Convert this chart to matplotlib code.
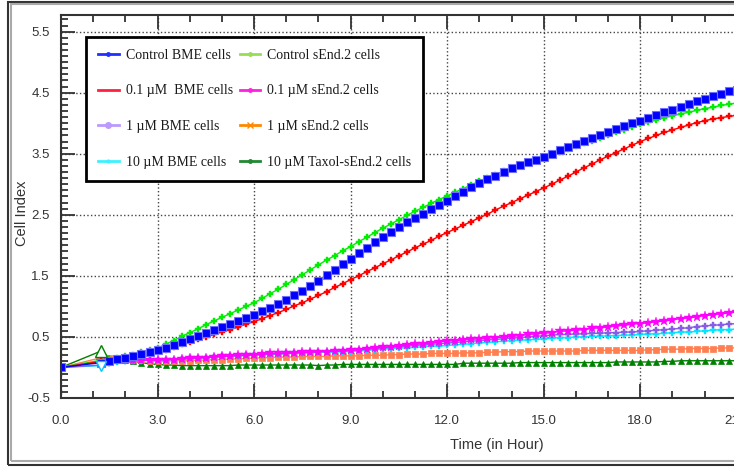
import numpy as np
import matplotlib.pyplot as plt
from matplotlib.lines import Line2D
from matplotlib.patches import Rectangle
from matplotlib.ticker import MultipleLocator, FormatStrFormatter

plt.rcParams['font.family'] = 'Liberation Sans'
plt.rcParams['axes.unicode_minus'] = False

# first reading at 0 h, then one reading every 15 min from 1.25 h
hours = np.concatenate([[0.0], np.arange(1.25, 21.01, 0.25)])

control_bme = [0.00, 0.08, 0.11, 0.14,
               0.16, 0.19, 0.22, 0.25, 0.28, 0.32, 0.37, 0.42,
               0.47, 0.52, 0.57, 0.61, 0.66, 0.71, 0.76, 0.81,
               0.86, 0.92, 0.98, 1.04, 1.10, 1.18, 1.26, 1.34,
               1.42, 1.51, 1.60, 1.69, 1.78, 1.87, 1.96, 2.05,
               2.14, 2.22, 2.30, 2.38, 2.45, 2.52, 2.59, 2.66,
               2.73, 2.80, 2.88, 2.95, 3.02, 3.08, 3.14, 3.20,
               3.26, 3.31, 3.36, 3.40, 3.45, 3.50, 3.56, 3.61,
               3.66, 3.71, 3.76, 3.81, 3.86, 3.91, 3.95, 4.00,
               4.04, 4.09, 4.13, 4.18, 4.22, 4.27, 4.31, 4.36,
               4.40, 4.44, 4.48, 4.52, 4.55]

control_send = [0.00, 0.12, 0.14, 0.16,
                0.18, 0.21, 0.25, 0.28, 0.32, 0.38, 0.44, 0.51,
                0.57, 0.63, 0.70, 0.76, 0.82, 0.88, 0.94, 1.00,
                1.06, 1.13, 1.21, 1.28, 1.36, 1.44, 1.52, 1.60,
                1.68, 1.76, 1.83, 1.91, 1.98, 2.06, 2.13, 2.21,
                2.28, 2.35, 2.42, 2.49, 2.56, 2.62, 2.69, 2.75,
                2.81, 2.87, 2.93, 2.99, 3.05, 3.10, 3.16, 3.21,
                3.26, 3.30, 3.35, 3.39, 3.43, 3.48, 3.53, 3.57,
                3.62, 3.67, 3.71, 3.76, 3.80, 3.85, 3.89, 3.94,
                3.98, 4.02, 4.05, 4.09, 4.12, 4.15, 4.18, 4.21,
                4.24, 4.26, 4.29, 4.31, 4.33]

bme_01 = [0.00, 0.10, 0.12, 0.13,
          0.14, 0.17, 0.19, 0.22, 0.25, 0.29, 0.34, 0.38,
          0.42, 0.46, 0.50, 0.54, 0.58, 0.62, 0.66, 0.71,
          0.75, 0.80, 0.85, 0.90, 0.95, 1.01, 1.06, 1.12,
          1.18, 1.24, 1.31, 1.37, 1.44, 1.50, 1.57, 1.63,
          1.70, 1.76, 1.83, 1.89, 1.96, 2.02, 2.08, 2.15,
          2.21, 2.27, 2.33, 2.39, 2.45, 2.51, 2.58, 2.64,
          2.70, 2.76, 2.82, 2.88, 2.94, 3.00, 3.07, 3.13,
          3.20, 3.27, 3.33, 3.40, 3.46, 3.52, 3.58, 3.64,
          3.70, 3.75, 3.80, 3.85, 3.89, 3.93, 3.97, 4.01,
          4.04, 4.07, 4.09, 4.11, 4.13]

send_01 = [0.00, 0.10, 0.13, 0.13,
           0.13, 0.12, 0.12, 0.12, 0.12, 0.13, 0.13, 0.14,
           0.15, 0.16, 0.16, 0.17, 0.18, 0.19, 0.20, 0.20,
           0.21, 0.22, 0.23, 0.23, 0.24, 0.24, 0.25, 0.25,
           0.26, 0.26, 0.27, 0.27, 0.28, 0.29, 0.30, 0.32,
           0.33, 0.34, 0.35, 0.37, 0.38, 0.39, 0.40, 0.42,
           0.43, 0.44, 0.45, 0.46, 0.47, 0.48, 0.49, 0.50,
           0.51, 0.52, 0.54, 0.55, 0.56, 0.57, 0.59, 0.60,
           0.61, 0.62, 0.64, 0.65, 0.66, 0.68, 0.69, 0.71,
           0.72, 0.73, 0.75, 0.76, 0.78, 0.80, 0.81, 0.83,
           0.85, 0.86, 0.88, 0.89, 0.91]

bme_1 = [0.00, 0.04, 0.08, 0.10,
         0.11, 0.11, 0.12, 0.12, 0.12, 0.13, 0.13, 0.14,
         0.15, 0.16, 0.16, 0.17, 0.18, 0.19, 0.19, 0.20,
         0.21, 0.21, 0.22, 0.22, 0.23, 0.24, 0.24, 0.25,
         0.26, 0.26, 0.27, 0.27, 0.28, 0.29, 0.30, 0.31,
         0.32, 0.33, 0.34, 0.35, 0.36, 0.37, 0.38, 0.39,
         0.40, 0.41, 0.42, 0.43, 0.44, 0.45, 0.46, 0.47,
         0.48, 0.49, 0.50, 0.51, 0.52, 0.53, 0.54, 0.54,
         0.55, 0.55, 0.56, 0.56, 0.57, 0.57, 0.58, 0.58,
         0.59, 0.60, 0.61, 0.62, 0.63, 0.64, 0.65, 0.67,
         0.68, 0.69, 0.70, 0.71, 0.72]

send_1 = [0.00, 0.16, 0.15, 0.15,
          0.14, 0.13, 0.12, 0.11, 0.10, 0.10, 0.11, 0.11,
          0.11, 0.12, 0.12, 0.13, 0.13, 0.14, 0.14, 0.15,
          0.15, 0.16, 0.16, 0.17, 0.17, 0.17, 0.18, 0.18,
          0.18, 0.18, 0.19, 0.19, 0.19, 0.19, 0.20, 0.20,
          0.20, 0.21, 0.21, 0.22, 0.22, 0.22, 0.23, 0.23,
          0.23, 0.23, 0.24, 0.24, 0.24, 0.25, 0.25, 0.26,
          0.26, 0.26, 0.27, 0.27, 0.27, 0.27, 0.27, 0.27,
          0.27, 0.28, 0.28, 0.28, 0.28, 0.28, 0.28, 0.28,
          0.28, 0.29, 0.29, 0.30, 0.30, 0.30, 0.31, 0.31,
          0.31, 0.31, 0.32, 0.32, 0.32]

bme_10 = [0.00, 0.03, 0.07, 0.09,
          0.10, 0.11, 0.11, 0.12, 0.12, 0.13, 0.13, 0.14,
          0.15, 0.16, 0.16, 0.17, 0.18, 0.19, 0.19, 0.20,
          0.21, 0.21, 0.22, 0.22, 0.23, 0.23, 0.24, 0.24,
          0.25, 0.25, 0.25, 0.26, 0.26, 0.27, 0.28, 0.29,
          0.30, 0.31, 0.32, 0.32, 0.33, 0.34, 0.35, 0.35,
          0.36, 0.37, 0.38, 0.39, 0.40, 0.41, 0.42, 0.43,
          0.44, 0.45, 0.45, 0.46, 0.47, 0.48, 0.49, 0.49,
          0.50, 0.50, 0.51, 0.51, 0.52, 0.52, 0.53, 0.53,
          0.54, 0.55, 0.55, 0.56, 0.57, 0.58, 0.58, 0.59,
          0.60, 0.61, 0.62, 0.62, 0.63]

taxol_send_10 = [0.00, 0.27, 0.16, 0.14,
                 0.12, 0.10, 0.08, 0.06, 0.05, 0.04, 0.04, 0.03,
                 0.03, 0.03, 0.03, 0.03, 0.03, 0.03, 0.04, 0.04,
                 0.04, 0.04, 0.04, 0.04, 0.04, 0.04, 0.04, 0.04,
                 0.03, 0.04, 0.04, 0.05, 0.05, 0.05, 0.05, 0.05,
                 0.05, 0.05, 0.05, 0.05, 0.05, 0.05, 0.05, 0.05,
                 0.05, 0.05, 0.07, 0.07, 0.07, 0.07, 0.07, 0.07,
                 0.07, 0.08, 0.08, 0.08, 0.08, 0.08, 0.08, 0.08,
                 0.08, 0.08, 0.08, 0.08, 0.08, 0.09, 0.09, 0.09,
                 0.09, 0.09, 0.09, 0.10, 0.10, 0.11, 0.11, 0.11,
                 0.11, 0.11, 0.11, 0.11, 0.11]

fig = plt.figure(figsize=(7.34, 4.68), dpi=100)
ax = fig.add_axes([61 / 734, 1 - 398 / 468, 708 / 734, 383 / 468])

# draw order: low curves first, then the growing ones
ax.plot(hours, taxol_send_10, color='#008000', marker='^', ms=5, lw=1, mew=0.5)
ax.plot(hours, send_1, color='#ff7f50', marker='s', ms=5, lw=1, mew=0.5)
ax.plot(hours, bme_10, color='#00e8ff', marker='P', ms=4.5, lw=1, mew=0.3)
ax.plot(hours, bme_1, color='#8a5ce6', marker='P', ms=5, lw=1, mew=0.3)
ax.plot(hours, send_01, color='#ff00ff', marker='*', ms=7, lw=1, mew=0.3)
ax.plot(hours, control_send, color='#00ee00', marker='P', ms=5, lw=1, mew=0.3)
ax.plot(hours, bme_01, color='#ff0000', marker='P', ms=4, lw=1, mew=0.3)
ax.plot(hours, control_bme, color='#0000ff', marker='s', ms=6, lw=1,
        mec='#6f6fff', mew=0.8)

# medium-change points drawn hollow
ax.plot(hours[1], taxol_send_10[1], marker='^', ms=8, mfc='white', mec='#008000', mew=1)
ax.plot(hours[1], bme_10[1], marker='v', ms=7, mfc='white', mec='#00c8ff', mew=1)

ax.set_xlim(0, 22)
ax.set_ylim(-0.5, 5.772)
ax.xaxis.set_major_locator(MultipleLocator(3))
ax.xaxis.set_minor_locator(MultipleLocator(1))
ax.xaxis.set_major_formatter(FormatStrFormatter('%.1f'))
ax.set_yticks(np.arange(-0.5, 5.6, 1.0))
ax.yaxis.set_minor_locator(MultipleLocator(0.1))
ax.yaxis.set_major_formatter(FormatStrFormatter('%.1f'))

ax.tick_params(which='both', direction='in', top=True, right=False,
               colors='#333333', labelsize=9.5, width=1.3)
ax.tick_params(axis='x', which='major', length=10, pad=12)
ax.tick_params(axis='x', which='minor', length=5)
ax.tick_params(axis='y', which='major', length=10, pad=8)
ax.tick_params(axis='y', which='minor', length=5)
for s in ['left', 'bottom', 'top']:
    ax.spines[s].set_color('#333333')
    ax.spines[s].set_linewidth(1.5)
ax.grid(True, which='major', linestyle=':', color='#444444', linewidth=1)

fig.text(22 / 734, 1 - 213 / 468, 'Cell Index', rotation=90, ha='center',
         va='center', fontsize=10.5, color='#333333')
ax.set_xlabel('Time (in Hour)', fontsize=10.5, color='#333333')
ax.xaxis.set_label_coords(497 / 734, 1 - 438 / 468, transform=fig.transFigure)

labels = ['Control BME cells', '0.1 \u00b5M  BME cells', '1 \u00b5M BME cells',
          '10 \u00b5M BME cells', 'Control sEnd.2 cells', '0.1 \u00b5M sEnd.2 cells',
          '1 \u00b5M sEnd.2 cells', '10 \u00b5M Taxol-sEnd.2 cells']
handles = [
    Line2D([], [], color='#2030ff', lw=2, marker='o', ms=2.5),
    Line2D([], [], color='#ff2040', lw=2),
    Line2D([], [], color='#bb99ff', lw=2, marker='o', ms=4),
    Line2D([], [], color='#40f0ff', lw=2, marker='o', ms=2),
    Line2D([], [], color='#99dd55', lw=2, marker='o', ms=2.5),
    Line2D([], [], color='#ff20e0', lw=2, marker='o', ms=2.5),
    Line2D([], [], color='#ff8800', lw=2, marker='x', ms=4),
    Line2D([], [], color='#228833', lw=2, marker='o', ms=2.5),
]
leg = ax.legend(handles, labels, ncol=2, loc='upper left',
                bbox_to_anchor=(86 / 734, 1 - 37 / 468), bbox_transform=fig.transFigure,
                borderaxespad=0, fancybox=False, framealpha=1, edgecolor='black',
                prop={'family': 'Liberation Serif', 'size': 10},
                handlelength=1.5, handletextpad=0.5, labelspacing=1.63,
                columnspacing=0.5, borderpad=0.85)
leg.get_frame().set_linewidth(2)
for t in leg.get_texts():
    t.set_color('#1a1a1a')

# window frame around the picture
fig.patches.append(Rectangle((8 / 734, 1 - 464.5 / 468), 1.1, 463 / 468,
                             transform=fig.transFigure, fill=False,
                             ec='#333333', lw=1.5))
fig.patches.append(Rectangle((11 / 734, 1 - 461 / 468), 1.1, 457.5 / 468,
                             transform=fig.transFigure, fill=False,
                             ec='#aaaaaa', lw=1.5))

fig.savefig('out.png', dpi=100)
